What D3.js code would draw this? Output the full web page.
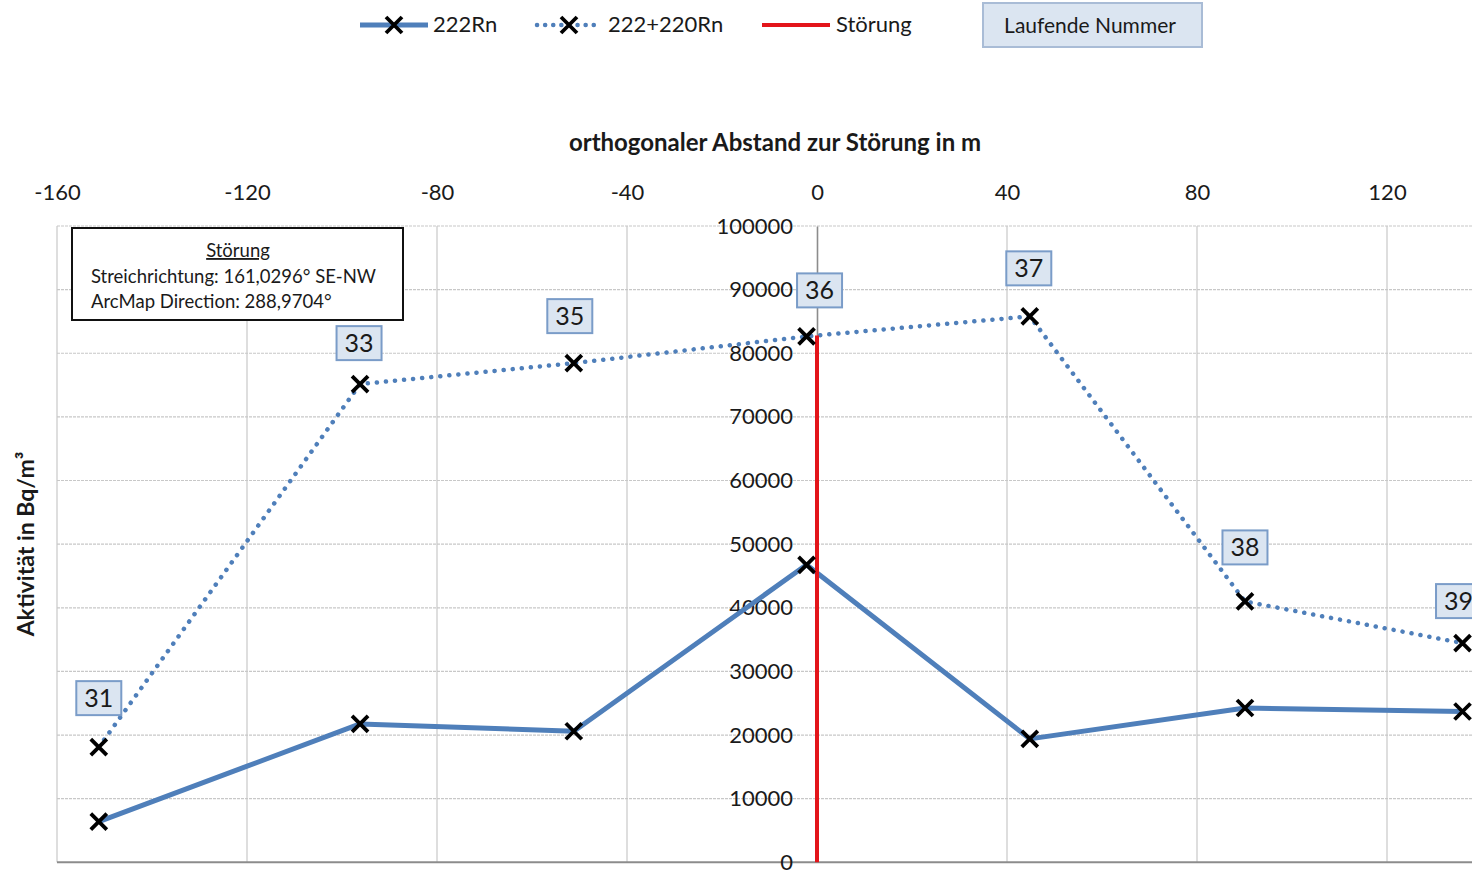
<!DOCTYPE html>
<html><head><meta charset="utf-8">
<script src="https://cdn.jsdelivr.net/npm/d3@7"></script>
<style>
body{margin:0;background:#fff;}
svg{display:block;font-family:Lato, "Open Sans", sans-serif;}
</style></head>
<body><svg id="c" width="1472" height="870"></svg>
<script>
const labels = ["31","33","35","36","37","38","39"];
const distance = [-151.2, -96.2, -51.2, -2.2, 44.8, 90.1, 135.9];
const rn222 = [6400, 21750, 20600, 46750, 19400, 24250, 23700];
const rn222220 = [18100, 75150, 78450, 82650, 85800, 41000, 34450];
const faultX = [0, 0];
const faultY = [0, 82800];
const xTicks = [-160, -120, -80, -40, 0, 40, 80, 120];
const yTicks = [0, 10000, 20000, 30000, 40000, 50000, 60000, 70000, 80000, 90000, 100000];
// manual label placement nudges (px), as in the original chart
const labelDx = [0, -1, -4, 13, -1, 0, -4];
const labelDy = [32, 24, 30, 29, 31, 37, 25];

const svg = d3.select("#c");
const x = d3.scaleLinear().domain([-160, 160]).range([57, 1577]);
const y = d3.scaleLinear().domain([0, 100000]).range([862.3, 226]);
const blue = "#4f7fba";

// gridlines
const g = svg.append("g");
g.selectAll(".hg").data(yTicks.filter(d => d > 0)).join("line")
  .attr("x1", x(-160)).attr("x2", 1472).attr("y1", d => y(d)).attr("y2", d => y(d))
  .attr("stroke", "#c8c8c8").attr("stroke-width", 1.2).attr("stroke-dasharray", "3,1");
g.selectAll(".vg").data(xTicks.filter(d => d !== 0)).join("line")
  .attr("x1", d => x(d)).attr("x2", d => x(d)).attr("y1", y(100000)).attr("y2", y(0))
  .attr("stroke", "#c8c8c8").attr("stroke-width", 1.2);

// bottom axis line
svg.append("line").attr("x1", x(-160)).attr("x2", 1472).attr("y1", y(0)).attr("y2", y(0))
  .attr("stroke", "#8c8c8c").attr("stroke-width", 2);

// y axis at x=0
const yAxis = d3.axisLeft(y).tickValues(yTicks).tickSize(0).tickPadding(24).tickFormat(d3.format("d"));
const ya = svg.append("g").attr("transform", `translate(${x(0)},0)`).call(yAxis);
ya.select(".domain").attr("stroke", "#8c8c8c").attr("stroke-width", 1.6);
ya.selectAll("text").attr("font-size", 22).attr("fill", "#1a1a1a").attr("font-family", "Lato, sans-serif");

// x axis on top (labels only)
const xAxis = d3.axisTop(x).tickValues(xTicks).tickSize(0).tickPadding(0).tickFormat(d3.format("d"));
const xa = svg.append("g").attr("transform", `translate(0,${200})`).call(xAxis);
xa.select(".domain").remove();
xa.selectAll("text").attr("font-size", 22).attr("fill", "#1a1a1a").attr("font-family", "Lato, sans-serif")
  .text(d => d < 0 ? "-" + Math.abs(d) : d);

// axis titles
svg.append("text").attr("x", 775).attr("y", 151).attr("text-anchor", "middle")
  .attr("font-size", 24).attr("font-weight", "bold").attr("fill", "#1a1a1a")
  .text("orthogonaler Abstand zur Störung in m");
svg.append("text").attr("transform", "translate(34,544) rotate(-90)").attr("text-anchor", "middle")
  .attr("font-size", 23).attr("font-weight", "bold").attr("fill", "#1a1a1a")
  .text("Aktivität in Bq/m³");

// info box
svg.append("rect").attr("x", 72).attr("y", 228).attr("width", 331).attr("height", 92)
  .attr("fill", "#fff").attr("stroke", "#111").attr("stroke-width", 2);
svg.append("text").attr("x", 238).attr("y", 257).attr("text-anchor", "middle").attr("font-size", 18.5)
  .attr("text-decoration", "underline").attr("fill", "#1a1a1a").text("Störung");
svg.append("text").attr("x", 91).attr("y", 283).attr("font-size", 18.5).attr("fill", "#1a1a1a")
  .text("Streichrichtung: 161,0296° SE-NW");
svg.append("text").attr("x", 91).attr("y", 308).attr("font-size", 18.5).attr("fill", "#1a1a1a")
  .text("ArcMap Direction: 288,9704°");

const pts1 = distance.map((d, i) => [d, rn222[i]]);
const pts2 = distance.map((d, i) => [d, rn222220[i]]);
const line = d3.line().x(d => x(d[0])).y(d => y(d[1]));

// series lines
svg.append("path").datum(pts1).attr("d", line).attr("fill", "none")
  .attr("stroke", blue).attr("stroke-width", 5).attr("stroke-linejoin", "round");
svg.append("path").datum(pts2).attr("d", line).attr("fill", "none")
  .attr("stroke", blue).attr("stroke-width", 4.5).attr("stroke-linecap", "round")
  .attr("stroke-dasharray", "0.1,9");

// fault line
svg.append("path").datum(faultX.map((d, i) => [d, faultY[i]])).attr("d", line)
  .attr("stroke", "#e3151a").attr("stroke-width", 4).attr("fill", "none");

// markers
function xMark(sel, size) {
  sel.append("path").attr("d", `M${-size},${-size}L${size},${size}M${-size},${size}L${size},${-size}`)
    .attr("stroke", "#000").attr("stroke-width", 3.8);
}
[pts1, pts2].forEach(pts => {
  pts.forEach(p => {
    const m = svg.append("g").attr("transform", `translate(${x(p[0])},${y(p[1])})`);
    xMark(m, 8);
  });
});

// point labels
pts2.forEach((p, i) => {
  const cx = x(p[0]) + labelDx[i], by = y(p[1]) - labelDy[i];
  const lg = svg.append("g");
  lg.append("rect").attr("x", cx - 22.5).attr("y", by - 34).attr("width", 45).attr("height", 34)
    .attr("fill", "#dbe5f1").attr("stroke", "#7a9cc8").attr("stroke-width", 2);
  lg.append("text").attr("x", cx).attr("y", by - 8).attr("text-anchor", "middle")
    .attr("font-size", 25).attr("fill", "#1a1a1a").text(labels[i]);
});

// legend
const lgd = svg.append("g");
lgd.append("line").attr("x1", 360).attr("x2", 428).attr("y1", 25).attr("y2", 25)
  .attr("stroke", blue).attr("stroke-width", 5);
xMark(lgd.append("g").attr("transform", "translate(394,25)"), 8);
lgd.append("text").attr("x", 433).attr("y", 32).attr("font-size", 22).attr("fill", "#1a1a1a").text("222Rn");
lgd.append("line").attr("x1", 537).attr("x2", 600).attr("y1", 25).attr("y2", 25)
  .attr("stroke", blue).attr("stroke-width", 4.5).attr("stroke-linecap", "round").attr("stroke-dasharray", "0.1,8");
xMark(lgd.append("g").attr("transform", "translate(569,25)"), 8);
lgd.append("text").attr("x", 608).attr("y", 32).attr("font-size", 22).attr("fill", "#1a1a1a").text("222+220Rn");
lgd.append("line").attr("x1", 762).attr("x2", 830).attr("y1", 25).attr("y2", 25)
  .attr("stroke", "#e3151a").attr("stroke-width", 4);
lgd.append("text").attr("x", 836).attr("y", 32).attr("font-size", 22).attr("fill", "#1a1a1a").text("Störung");
lgd.append("rect").attr("x", 983).attr("y", 3).attr("width", 219).attr("height", 44)
  .attr("fill", "#dbe5f1").attr("stroke", "#a9bcd6").attr("stroke-width", 2);
lgd.append("text").attr("x", 1090).attr("y", 33).attr("text-anchor", "middle").attr("font-size", 21)
  .attr("fill", "#1a1a1a").text("Laufende Nummer");
</script></body></html>
